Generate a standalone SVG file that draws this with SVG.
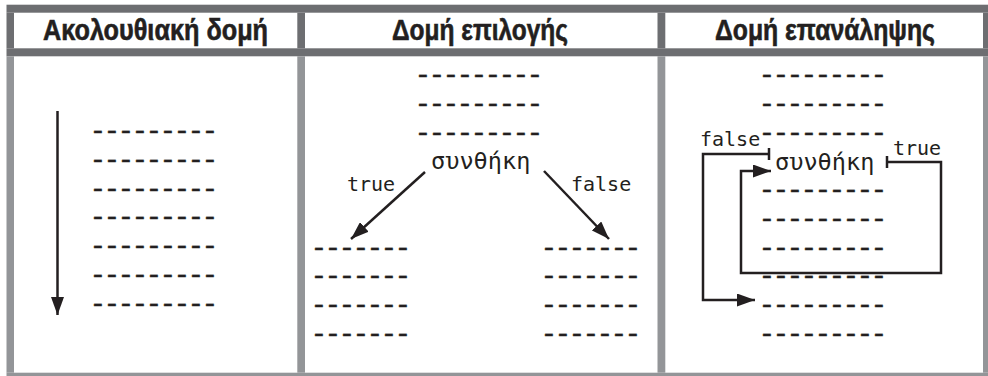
<svg xmlns="http://www.w3.org/2000/svg" width="988" height="376" viewBox="0 0 988 376">
<style>
.dark{fill:#6d6e71}
.light{fill:#939598}
.hd{font-family:"Liberation Sans",Arial,sans-serif;font-weight:bold;font-size:29px;fill:#231f20;stroke:#231f20;stroke-width:0.6px;text-anchor:middle}
.dash{font-family:"Liberation Mono","Courier New",monospace;font-size:28px;letter-spacing:-2.8px;fill:#231f20;stroke:#231f20;stroke-width:0.3px}
.cond{font-family:"DejaVu Sans Mono",monospace;font-size:23.6px;fill:#231f20}
.lbl{font-family:"DejaVu Sans Mono",monospace;font-size:20px;fill:#231f20}
.ln{fill:none;stroke:#231f20;stroke-width:2.5}
</style>
<defs>
<marker id="ah" markerUnits="userSpaceOnUse" markerWidth="18" markerHeight="13" refX="18" refY="6.5" orient="auto" viewBox="0 0 18 13">
<path d="M0,0 L18,6.5 L0,13 z" fill="#231f20"/>
</marker>
<marker id="tee" markerUnits="userSpaceOnUse" markerWidth="4" markerHeight="12" refX="2" refY="6" orient="auto" viewBox="0 0 4 12">
<path d="M2,0 V12" stroke="#231f20" stroke-width="2.5"/>
</marker>
</defs>
<g id="frame">
<rect class="dark" x="6.5" y="4.7" width="981.5" height="8"/>
<rect class="dark" x="6.5" y="48.3" width="981.5" height="8"/>
<rect class="dark" x="6.5" y="12.7" width="7.5" height="35.6"/>
<rect class="dark" x="297.3" y="12.7" width="7.7" height="35.6"/>
<rect class="dark" x="657.5" y="12.7" width="7.8" height="35.6"/>
<rect class="dark" x="983" y="12.7" width="5" height="35.6"/>
<rect class="light" x="6.5" y="56.3" width="7.5" height="316.4"/>
<rect class="light" x="297.3" y="56.3" width="7.7" height="316.4"/>
<rect class="light" x="657.5" y="56.3" width="7.8" height="316.4"/>
<rect class="light" x="983" y="56.3" width="5" height="316.4"/>
<rect class="light" x="6.5" y="372.7" width="981.5" height="3.3"/>
</g>
<g id="headers">
<text class="hd" x="155.5" y="39.5" textLength="225" lengthAdjust="spacingAndGlyphs">Ακολουθιακή δομή</text>
<text class="hd" x="480" y="39.5" textLength="176" lengthAdjust="spacingAndGlyphs">Δομή επιλογής</text>
<text class="hd" x="825" y="39.5" textLength="220" lengthAdjust="spacingAndGlyphs">Δομή επανάληψης</text>
</g>
<g id="sequence">
<text class="dash" x="89.4" y="139">---------</text>
<text class="dash" x="89.4" y="167.75">---------</text>
<text class="dash" x="89.4" y="196.5">---------</text>
<text class="dash" x="89.4" y="225.25">---------</text>
<text class="dash" x="89.4" y="254">---------</text>
<text class="dash" x="89.4" y="282.75">---------</text>
<text class="dash" x="89.4" y="311.5">---------</text>
</g>
<g id="selection">
<text class="dash" x="414.4" y="83">---------</text>
<text class="dash" x="414.4" y="111.75">---------</text>
<text class="dash" x="414.4" y="140.5">---------</text>
<text class="cond" x="431" y="169">συνθήκη</text>
<text class="dash" x="310.4" y="255.5">-------</text>
<text class="dash" x="310.4" y="284.25">-------</text>
<text class="dash" x="310.4" y="313">-------</text>
<text class="dash" x="310.4" y="341.75">-------</text>
<text class="dash" x="540.4" y="255.5">-------</text>
<text class="dash" x="540.4" y="284.25">-------</text>
<text class="dash" x="540.4" y="313">-------</text>
<text class="dash" x="540.4" y="341.75">-------</text>
</g>
<g id="repetition">
<text class="dash" x="758.4" y="83">---------</text>
<text class="dash" x="758.4" y="111.75">---------</text>
<text class="dash" x="758.4" y="140.5">---------</text>
<text class="cond" x="775" y="170">συνθήκη</text>
<text class="dash" x="758.4" y="198">---------</text>
<text class="dash" x="758.4" y="226.75">---------</text>
<text class="dash" x="758.4" y="255.5">---------</text>
<text class="dash" x="758.4" y="284.25">---------</text>
<text class="dash" x="758.4" y="313">---------</text>
<text class="dash" x="758.4" y="341.75">---------</text>
</g>
<g id="connectors">
<path class="ln" d="M57.5,111 V315" marker-end="url(#ah)"/>
<path class="ln" d="M425,172 L351,239" marker-end="url(#ah)"/>
<path class="ln" d="M544,171 L609,239" marker-end="url(#ah)"/>
<path class="ln" d="M769,154 H703 V300 H755" marker-start="url(#tee)" marker-end="url(#ah)"/>
<path class="ln" d="M887,162 H941 V273 H741 V171 H771" marker-start="url(#tee)" marker-end="url(#ah)"/>
<text class="lbl" x="347" y="191">true</text>
<text class="lbl" x="571" y="191">false</text>
<text class="lbl" x="700" y="146">false</text>
<text class="lbl" x="893" y="155">true</text>
</g>
</svg>
